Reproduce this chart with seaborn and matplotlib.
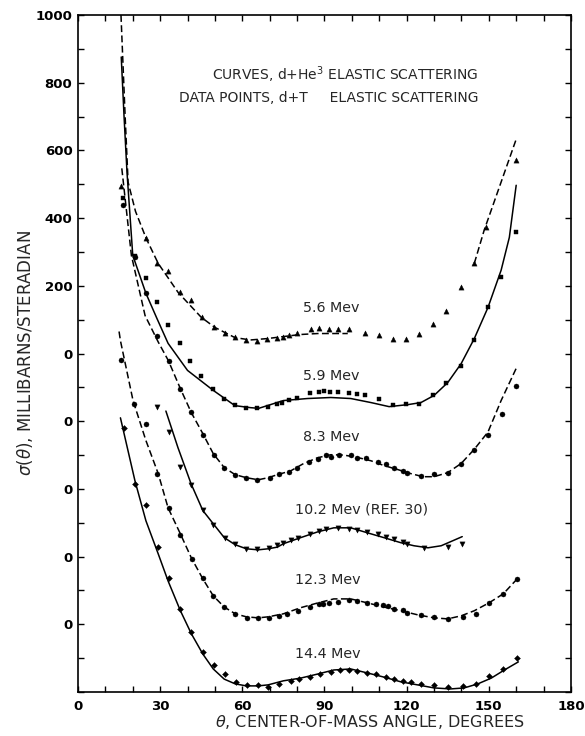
import matplotlib
matplotlib.use("Agg")
import matplotlib.pyplot as plt
import seaborn as sns

# ---------------- data (display units, curves offset) ----------------
# 5.6 MeV : dashed curve (two pieces) + up-triangles
C56A_T = [15.7, 17.2, 18.3, 21.0, 24.9, 29.3, 36.6, 45.0, 50.0, 57.3, 63.0, 69.0, 75.0, 81.0, 87.5, 93.4, 98.5]
C56A_V = [1000, 704, 506, 420, 340, 266, 180, 107, 77, 47, 40, 44, 50, 56, 59, 59, 59]
C56B_T = [144.7, 148.3, 160.0]
C56B_V = [266, 364, 633]
P56_T = [15.8, 24.9, 29, 33, 37.3, 41.4, 45.4, 49.5, 53.6, 57.4, 61.5, 65.4, 69, 72.6, 75, 77, 80,
         85, 88, 91.5, 94.8, 98.8, 104.7, 109.8, 115, 119.6, 124.5, 129.6, 134.5, 139.8, 144.7, 149, 160]
P56_V = [494, 340, 266, 243, 183, 157, 107, 77, 62, 50, 41, 38, 44, 47, 50, 56, 62,
         71, 74, 71, 71, 71, 62, 56, 44, 44, 59, 86, 127, 195, 266, 373, 573]

# 5.9 MeV : solid curve + squares
C59_T = [15.8, 16.8, 17.9, 20.0, 24.8, 28.8, 32.9, 40.0, 49.4, 57.3, 63.0, 66.0, 75.0, 83.8, 92.3, 99.6,
         107.0, 113.6, 120.5, 125.2, 130.0, 135.0, 139.9, 144.7, 149.7, 154.5, 157.5, 160.0]
C59_V = [876, 704, 535, 290, 178, 104, 30, -50, -109, -154, -160, -162, -139, -133, -130, -133,
         -145, -157, -151, -145, -124, -86, -30, 44, 136, 246, 343, 497]
P59_T = [16.4, 20.8, 24.8, 29, 32.9, 37.3, 41, 45, 49.4, 53.4, 57.4, 61.5, 65.4, 69.4, 72.8, 74.5, 77,
         80, 84.6, 88, 90, 91.9, 95, 98.8, 102, 104.7, 109.8, 115, 119.6, 124.6, 129.6, 134.5, 139.8,
         144.7, 149.7, 154.5, 160]
P59_V = [459, 287, 222, 151, 83, 30, -21, -65, -104, -133, -151, -160, -160, -157, -148, -145, -136,
         -130, -118, -115, -112, -115, -115, -118, -121, -124, -133, -151, -148, -148, -124, -86, -36,
         41, 136, 225, 358]

# 8.3 MeV : dashed curve + circles
C83_T = [16.0, 19.5, 24.5, 29.3, 33.0, 37.4, 41.4, 45.6, 49.4, 53.4, 57.4, 61.5, 65.8, 69.4, 72.8, 77.6,
         82.4, 87.5, 92.3, 97.0, 102.0, 107.0, 111.7, 116.8, 121.6, 126.0, 130.0, 135.0, 139.9, 144.7,
         149.7, 154.5, 160.0]
C83_V = [547, 290, 112, 34, -21, -104, -175, -237, -296, -337, -358, -367, -373, -367, -358, -347,
         -325, -308, -299, -300, -307, -317, -331, -343, -355, -364, -364, -352, -325, -283,
         -232, -139, -44]
P83_T = [16.4, 20.8, 24.8, 29, 33.2, 37.4, 41.4, 45.6, 49.6, 53.4, 57.4, 61.5, 65.4, 70.2, 73.3, 77, 80,
         84.3, 87.5, 90.4, 92.5, 95.3, 99.6, 102, 105, 109.5, 112.5, 115.4, 118.5, 120.3, 125.2, 130,
         135, 139.9, 144.7, 149.7, 155, 160]
P83_V = [438, 284, 178, 53, -21, -104, -172, -240, -299, -337, -358, -367, -373, -367, -355, -349, -337,
         -322, -311, -299, -305, -299, -299, -308, -308, -320, -325, -337, -346, -352, -361, -355,
         -352, -325, -284, -240, -180, -95]

# 10.2 MeV : solid curve + down-triangles
C102_T = [32.1, 36.5, 41.3, 45.6, 49.4, 53.4, 57.4, 61.5, 65.8, 69.4, 72.8, 75.0, 81.3, 87.5, 93.4,
          99.6, 105.8, 111.7, 117.9, 122.7, 127.8, 132.6, 136.9, 140.3]
C102_V = [-170, -278, -385, -464, -503, -544, -565, -577, -580, -577, -572, -562, -544, -527, -515,
          -515, -530, -544, -559, -568, -574, -568, -553, -541]
P102_T = [29, 33.2, 37.4, 41.4, 45.6, 49.4, 53.7, 57.4, 61.5, 65.4, 69.6, 72.7, 75, 77.6, 80.5, 84.6,
          88, 90.4, 94.9, 98.8, 102, 105.7, 109.4, 112.5, 115.4, 118.5, 120.3, 126.3, 135, 140.3]
P102_V = [-157, -231, -334, -388, -462, -506, -544, -562, -577, -577, -574, -565, -559, -550, -544, -532,
          -524, -518, -515, -518, -521, -527, -532, -541, -547, -556, -562, -574, -571, -562]

# 12.3 MeV : dashed curve + circles
C123_T = [15.0, 15.5, 20.1, 24.8, 29.3, 32.9, 37.4, 41.4, 45.6, 49.4, 53.4, 57.4, 61.5, 65.8, 69.4, 75.0,
          81.3, 87.5, 93.4, 99.6, 105.8, 111.7, 117.9, 124.0, 130.0, 135.0, 139.9, 144.7, 150.0, 155.3, 160.0]
C123_V = [65, 38, -139, -257, -355, -456, -533, -604, -666, -716, -749, -769, -778, -781, -778, -769,
          -751, -737, -725, -725, -737, -749, -760, -772, -781, -784, -775, -760, -737, -710, -669]
P123_T = [15.8, 20.5, 24.8, 29, 33.2, 37.4, 41.7, 45.6, 49.4, 53.4, 57.4, 61.7, 65.8, 69.6, 73.3, 76.5,
          80.5, 84.6, 88, 89.6, 91.5, 94.9, 98.8, 102, 105.4, 108.8, 111.3, 113.1, 115.4, 118.5, 120.3,
          125.2, 130, 135, 140.6, 145.3, 150, 155.3, 160.2]
P123_V = [-18, -148, -207, -355, -456, -536, -607, -663, -716, -749, -769, -781, -781, -781, -775, -769,
          -760, -749, -740, -740, -737, -734, -728, -731, -737, -740, -743, -746, -754, -757, -766,
          -772, -778, -784, -778, -769, -737, -710, -666]

# 14.4 MeV : solid curve + diamonds
C144_T = [15.5, 20.8, 24.8, 29.3, 32.9, 37.4, 41.4, 45.6, 49.4, 53.4, 57.4, 61.5, 65.8, 69.4, 75.0, 81.3,
          87.5, 93.4, 99.6, 105.8, 111.7, 117.9, 124.0, 130.0, 136.0, 141.0, 146.0, 150.9, 155.7, 160.8]
C144_V = [-190, -376, -494, -592, -672, -760, -828, -888, -932, -962, -976, -982, -982, -979, -967, -959,
          -947, -935, -932, -944, -956, -970, -979, -988, -991, -988, -976, -959, -935, -911]
P144_T = [16.8, 20.8, 24.8, 29.3, 33.2, 37.4, 41.4, 45.6, 49.6, 53.7, 57.7, 61.7, 65.8, 69.4, 73.3, 77.6,
          80.8, 84.6, 88.5, 92.3, 95.8, 98.8, 102, 105.4, 108.8, 112.5, 115.4, 118.5, 121.6, 125.2, 130,
          135, 140.6, 145.3, 150, 155.3, 160.2]
P144_V = [-219, -385, -447, -571, -663, -754, -822, -882, -920, -947, -970, -979, -979, -985, -976, -967,
          -962, -956, -947, -941, -935, -935, -938, -944, -947, -956, -962, -967, -970, -976, -979,
          -985, -982, -976, -953, -932, -899]

X_TICKS = [0, 30, 60, 90, 120, 150, 180]
Y_TICKS = [1000, 800, 600, 400, 200, 0, -200, -400, -600, -800]
Y_TICK_LABELS = ["1000", "800", "600", "400", "200", "0", "0", "0", "0", "0"]

ENERGY_LABELS = ["5.6 Mev", "5.9 Mev", "8.3 Mev", "10.2 Mev (REF. 30)", "12.3 Mev", "14.4 Mev"]
ENERGY_LABEL_T = [82.0, 82.0, 82.0, 79.3, 79.3, 79.3]
ENERGY_LABEL_V = [133, -65, -246, -462, -669, -888]

# ---------------- plotting ----------------
sns.set_style("ticks")
plt.rcParams["font.family"] = ["DejaVu Sans"]

fig = plt.figure(figsize=(5.85, 7.36), dpi=100)
ax = fig.add_axes([0.1333, 0.0598, 0.8427, 0.9198])

DASH = (0, (4.5, 2.2))
LW = 1.1
lines = [
    (C56A_T, C56A_V, DASH),
    (C56B_T, C56B_V, DASH),
    (C59_T, C59_V, "-"),
    (C83_T, C83_V, DASH),
    (C102_T, C102_V, "-"),
    (C123_T, C123_V, DASH),
    (C144_T, C144_V, "-"),
]
for t, v, ls in lines:
    sns.lineplot(x=t, y=v, sort=False, estimator=None, color="black", lw=LW,
                 linestyle=ls, ax=ax)

points = [
    (P56_T, P56_V, "^", 14),
    (P59_T, P59_V, "s", 11),
    (P83_T, P83_V, "o", 13),
    (P102_T, P102_V, "v", 14),
    (P123_T, P123_V, "o", 13),
    (P144_T, P144_V, "D", 9),
]
for t, v, m, s in points:
    sns.scatterplot(x=t, y=v, marker=m, s=s, color="black", edgecolor="black",
                    linewidth=0.3, ax=ax, zorder=3)

ax.set_xlim(0, 180)
ax.set_ylim(-1000, 1000)
ax.set_xticks(X_TICKS)
ax.set_xticklabels([str(x) for x in X_TICKS], fontsize=9.5, fontweight="bold")
ax.set_xticks(range(0, 181, 10), minor=True)
ax.set_yticks(Y_TICKS)
ax.set_yticklabels(Y_TICK_LABELS, fontsize=9.5, fontweight="bold")
ax.set_yticks(range(-1000, 1001, 100), minor=True)

ax.tick_params(which="both", direction="in", top=True, right=True, length=4.5, width=1.0,
               colors="black")
ax.tick_params(axis="x", which="major", pad=5.5)
ax.tick_params(axis="y", which="major", pad=4)
for sp in ax.spines.values():
    sp.set_visible(True)
    sp.set_linewidth(1.2)
    sp.set_color("black")

ax.set_xlabel(r"$\theta$, CENTER-OF-MASS ANGLE, DEGREES", fontsize=11.5)
ax.xaxis.label.set_verticalalignment("center")
ax.xaxis.set_label_coords(0.592, -0.045)
ax.set_ylabel(r"$\sigma(\theta)$, MILLIBARNS/STERADIAN", fontsize=12)
ax.yaxis.label.set_verticalalignment("center")
ax.yaxis.set_label_coords(-0.108, 0.5)

ax.text(146.3, 825, r"CURVES, d+He$^{3}$ ELASTIC SCATTERING", ha="right", va="center", fontsize=10)
ax.text(146.3, 754, "DATA POINTS, d+T     ELASTIC SCATTERING", ha="right", va="center", fontsize=10)

for lab, t, v in zip(ENERGY_LABELS, ENERGY_LABEL_T, ENERGY_LABEL_V):
    ax.text(t, v, lab, ha="left", va="center", fontsize=10.3)

fig.savefig("out.png", dpi=100)
